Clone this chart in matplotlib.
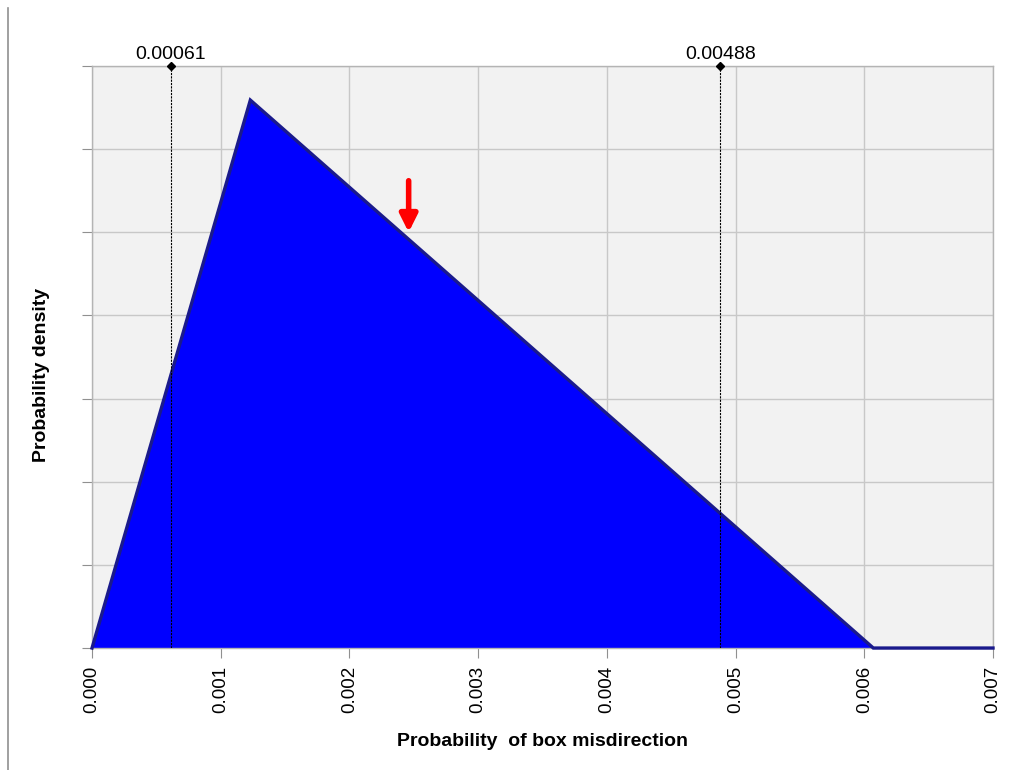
import matplotlib
matplotlib.use('Agg')
from matplotlib import pyplot as plt
from matplotlib.lines import Line2D

plt.rcParams['font.family'] = ['Liberation Sans', 'DejaVu Sans']

# triangular density
x_pts = [0.0, 0.00123, 0.00607, 0.0070]
density = [0.0, 329.5, 0.0, 0.0]

# percentile markers
marker_x = [0.00061, 0.00488]
marker_labels = ['0.00061', '0.00488']

arrow_x = 0.00246
arrow_top = 281
arrow_tip = 250

x_ticks = [0.000, 0.001, 0.002, 0.003, 0.004, 0.005, 0.006, 0.007]
y_ticks = [0, 50, 100, 150, 200, 250, 300, 350]

fig = plt.figure(figsize=(10.27, 7.7), dpi=100)
ax = fig.add_axes([0.0896, 0.1584, 0.8773, 0.7559])
ax.set_facecolor('#f2f2f2')

ax.fill(x_pts[:3], density[:3], color='#0000ff', zorder=2)
ax.plot(x_pts, density, color='#1a1a8c', lw=2.4, zorder=3,
        solid_joinstyle='miter', clip_on=False)

for xv, lab in zip(marker_x, marker_labels):
    ax.plot([xv, xv], [0, 350], color='black', lw=0.8, ls=(0, (2, 1)), zorder=4)
    ax.plot([xv], [350], marker='D', ms=4.5, color='black', clip_on=False, zorder=5)
    ax.text(xv, 352, lab, ha='center', va='bottom', fontsize=14)

ax.annotate('', xy=(arrow_x, arrow_tip), xytext=(arrow_x, arrow_top),
            arrowprops=dict(arrowstyle='-|>', color='#ff0000', lw=4,
                            mutation_scale=26, shrinkA=0, shrinkB=0), zorder=6)

ax.set_xlim(0, 0.007)
ax.set_ylim(0, 350)
ax.set_xticks(x_ticks)
ax.set_xticklabels(['%.3f' % v for v in x_ticks], rotation=90, fontsize=13.5)
ax.set_yticks(y_ticks)
ax.set_yticklabels([])
ax.grid(True, color='#c8c8c8', lw=1.0, zorder=1)
ax.set_axisbelow(True)
ax.tick_params(axis='both', direction='out', length=7, color='#909090', pad=6)
for sp in ax.spines.values():
    sp.set_color('#b4b4b4')
    sp.set_linewidth(1.0)

ax.set_xlabel('Probability  of box misdirection', fontsize=14, fontweight='bold', labelpad=14)
ax.set_ylabel('Probability density', fontsize=14, fontweight='bold')
ax.yaxis.set_label_coords(-0.047, 0.469)

fig.add_artist(Line2D([0.0075, 0.0075], [0.0, 0.99], color='#909090', lw=1.2))

fig.savefig('out.png', dpi=100)
